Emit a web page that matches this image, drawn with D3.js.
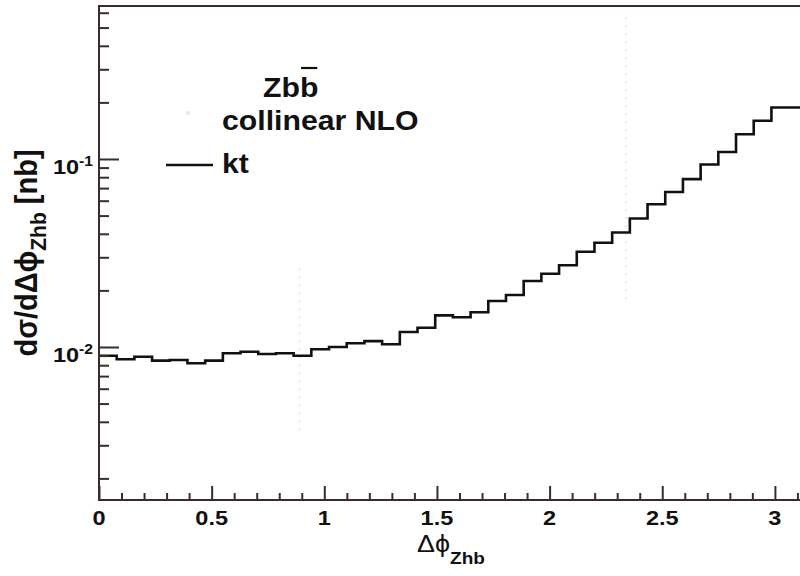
<!DOCTYPE html>
<html>
<head>
<meta charset="utf-8">
<script src="https://cdnjs.cloudflare.com/ajax/libs/d3/7.8.5/d3.min.js"></script>
<style>
  html, body { margin: 0; padding: 0; background: #fff; }
  svg { display: block; }
  text { font-family: "Liberation Sans", Arial, Helvetica, sans-serif; }
</style>
</head>
<body>
<svg id="chart" width="800" height="576"></svg>
<script>
// ---------------- data ----------------
// kt histogram: 40 bins over [0, pi]
const binCount = 40;
const xRangeMax = Math.PI;
const ktValues = [
  0.00898, 0.00861, 0.00888, 0.00846, 0.00853, 0.00819, 0.00846, 0.00927,
  0.00943, 0.00918, 0.00926, 0.00898, 0.00973, 0.01000, 0.01046, 0.01074,
  0.01035, 0.01202, 0.01265, 0.01472, 0.01439, 0.01530, 0.01757, 0.01890,
  0.02244, 0.02451, 0.02720, 0.03212, 0.03587, 0.04064, 0.04826, 0.05741,
  0.06675, 0.07819, 0.09348, 0.10900, 0.13550, 0.15970, 0.18790, 0.18790
];
// faint "collinear NLO" error bars (barely visible in the picture)
const nloX = [0.89, 2.34];
const nloLow = [0.0036, 0.018];
const nloHigh = [0.027, 0.58];

const xTickValues = [0, 0.5, 1, 1.5, 2, 2.5, 3];
const xTickLabels = ["0", "0.5", "1", "1.5", "2", "2.5", "3"];
const yMajorTicks = [0.01, 0.1];
const yMajorExponents = ["-2", "-1"];
const legendLabels = ["Zbb", "collinear NLO", "kt"];

// ---------------- layout ----------------
const svg = d3.select("#chart");
svg.append("rect").attr("width", 800).attr("height", 576).attr("fill", "#fff");

const pLeft = 99, pRight = 99 + 225.3 * Math.PI, pTop = 6, pBottom = 500;
const x = d3.scaleLinear().domain([0, xRangeMax]).range([pLeft, pRight]);
const y = d3.scaleLog().domain([0.001535, 0.6513]).range([pBottom, pTop]);

const axisColor = "#3d2b2b";
const sx = 1.12; // horizontal text stretch seen in the picture

// faint NLO bars
const nlo = svg.append("g").attr("stroke", "#ebead6").attr("stroke-width", 2)
  .attr("stroke-dasharray", "2,6");
nloX.forEach((v, i) => {
  nlo.append("line").attr("x1", x(v)).attr("x2", x(v))
    .attr("y1", y(nloLow[i])).attr("y2", y(nloHigh[i]));
});

// histogram
const edges = d3.range(binCount + 1).map(i => i * xRangeMax / binCount);
const pts = edges.map((e, i) => [e, ktValues[Math.min(i, binCount - 1)]]);
const line = d3.line().x(d => x(d[0])).y(d => y(d[1])).curve(d3.curveStepAfter);
svg.append("path").datum(pts).attr("d", line)
  .attr("fill", "none").attr("stroke", "#111").attr("stroke-width", 2.6)
  .attr("stroke-linejoin", "miter");

// frame
svg.append("line").attr("x1", pLeft).attr("x2", 800).attr("y1", pTop).attr("y2", pTop)
  .attr("stroke", axisColor).attr("stroke-width", 2);

// x axis (ticks inward)
const xMinor = d3.range(0, 3.15, 0.1).filter(v => Math.abs(v * 2 - Math.round(v * 2)) > 1e-6);
const xAxisMajor = d3.axisTop(x).tickValues(xTickValues).tickSize(14).tickFormat("");
const xAxisMinor = d3.axisTop(x).tickValues(xMinor).tickSize(7).tickFormat("");
const gxm = svg.append("g").attr("transform", `translate(0,${pBottom})`).call(xAxisMinor);
const gx = svg.append("g").attr("transform", `translate(0,${pBottom})`).call(xAxisMajor);
[gx, gxm].forEach(g => {
  g.select(".domain").remove();
  g.selectAll(".tick line").attr("stroke", axisColor).attr("stroke-width", 2);
});
svg.append("line").attr("x1", pLeft - 1).attr("x2", 800).attr("y1", pBottom).attr("y2", pBottom)
  .attr("stroke", axisColor).attr("stroke-width", 2);

xTickValues.forEach((v, i) => {
  svg.append("text")
    .attr("transform", `translate(${x(v)},525) scale(${sx},1)`)
    .attr("text-anchor", "middle").attr("font-size", 21).attr("font-weight", "bold")
    .attr("fill", "#111").text(xTickLabels[i]);
});

// y axis (ticks inward)
const yMinor = [];
[0.001, 0.01, 0.1].forEach(d => { for (let k = 2; k <= 9; k++) { const v = d * k; if (v > 0.001535 && v < 0.6513) yMinor.push(v); } });
const yAxisMajor = d3.axisRight(y).tickValues(yMajorTicks).tickSize(20).tickFormat("");
const yAxisMinor = d3.axisRight(y).tickValues(yMinor).tickSize(10).tickFormat("");
const gym = svg.append("g").attr("transform", `translate(${pLeft},0)`).call(yAxisMinor);
const gy = svg.append("g").attr("transform", `translate(${pLeft},0)`).call(yAxisMajor);
[gy, gym].forEach(g => {
  g.select(".domain").remove();
  g.selectAll(".tick line").attr("stroke", axisColor).attr("stroke-width", 2);
});
svg.append("line").attr("x1", pLeft).attr("x2", pLeft).attr("y1", pTop - 1).attr("y2", pBottom + 1)
  .attr("stroke", axisColor).attr("stroke-width", 2);

yMajorTicks.forEach((v, i) => {
  const t = svg.append("text")
    .attr("transform", `translate(93,${y(v) + 15}) scale(${sx},1)`)
    .attr("text-anchor", "end").attr("font-weight", "bold").attr("fill", "#111");
  t.append("tspan").attr("font-size", 21).text("10");
  t.append("tspan").attr("font-size", 14).attr("dy", -8).text(yMajorExponents[i]);
});

// y title
const yt = svg.append("text")
  .attr("transform", `translate(37,253) scale(1.05,1) rotate(-90)`)
  .attr("text-anchor", "middle").attr("font-size", 29).attr("font-weight", "bold").attr("fill", "#111");
yt.append("tspan").text("dσ/dΔϕ");
yt.append("tspan").attr("font-size", 21).attr("dy", 9).text("Zhb");
yt.append("tspan").attr("dy", -9).text(" [nb]");

// x title
const xt = svg.append("text")
  .attr("transform", `translate(451,552) scale(${sx},1)`)
  .attr("text-anchor", "middle").attr("font-size", 24).attr("fill", "#111");
xt.append("tspan").text("Δϕ");
xt.append("tspan").attr("font-size", 17).attr("font-weight", "bold").attr("dy", 12).text("Zhb");

// legend
const lg = svg.append("g").attr("font-weight", "bold").attr("fill", "#111");
const z = lg.append("text").attr("transform", `translate(263,97) scale(${sx},1)`)
  .attr("font-size", 27).text(legendLabels[0]);
{
  const n = z.node();
  const s = n.getStartPositionOfChar(2).x, w = n.getSubStringLength(2, 1);
  lg.append("line").attr("x1", 263 + (s + 1) * sx).attr("x2", 263 + (s + w - 1) * sx)
    .attr("y1", 68).attr("y2", 68).attr("stroke", "#111").attr("stroke-width", 2.2);
}
lg.append("text").attr("transform", `translate(222,130) scale(${sx},1)`)
  .attr("font-size", 27).text(legendLabels[1]);
lg.append("text").attr("transform", `translate(222,173) scale(${sx},1)`)
  .attr("font-size", 27).text(legendLabels[2]);
lg.append("line").attr("x1", 166).attr("x2", 213).attr("y1", 165).attr("y2", 165)
  .attr("stroke", "#111").attr("stroke-width", 2.4);
lg.append("circle").attr("cx", 188).attr("cy", 113).attr("r", 2).attr("fill", "#e8e8e0");
</script>
</body>
</html>
